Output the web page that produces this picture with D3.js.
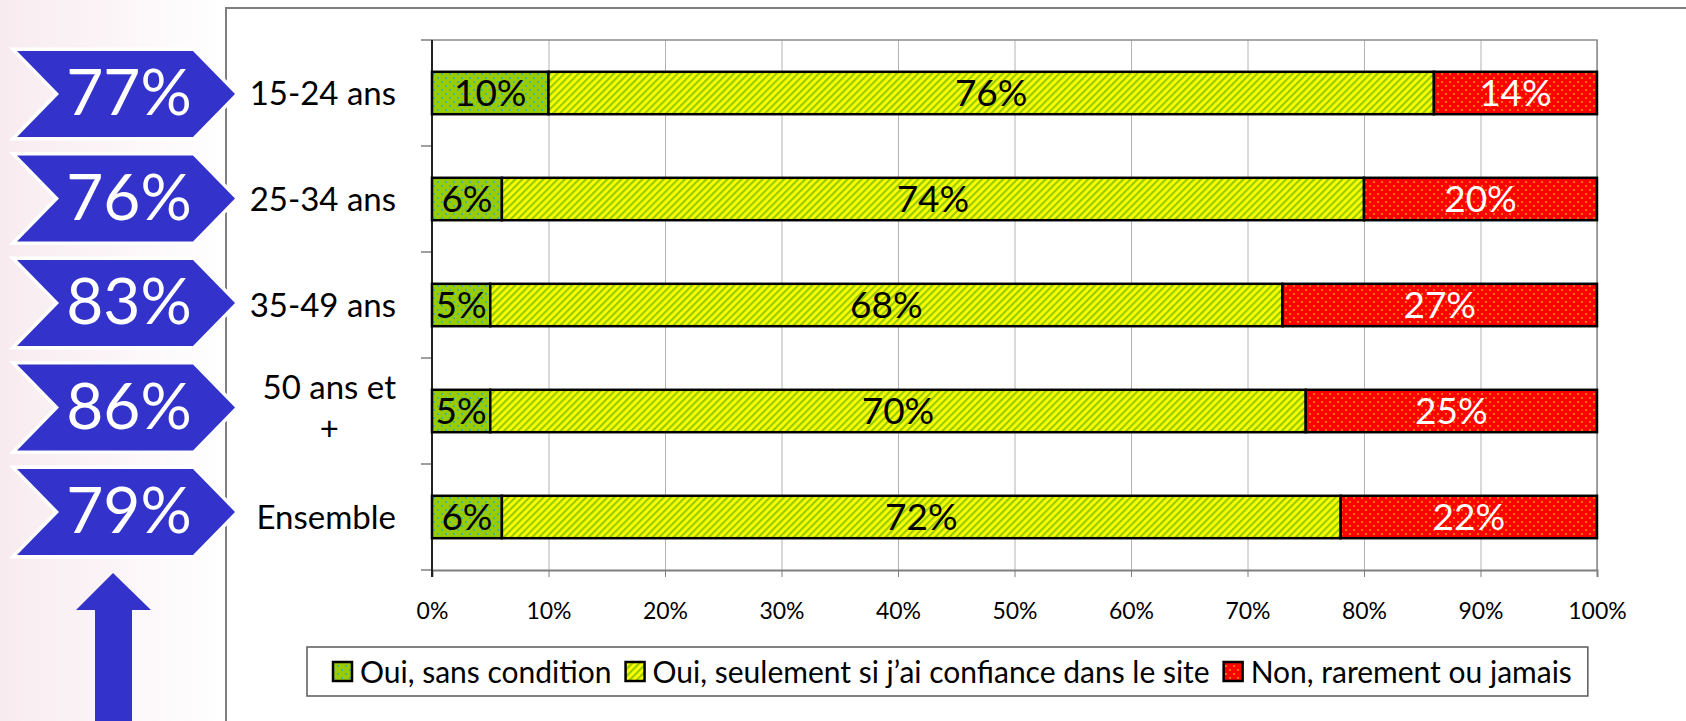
<!DOCTYPE html>
<meta charset="utf-8">
<style>

  body {
    margin: 0;
    background: #fff;
  }

  text {
    font-family: Lato, "Noto Sans", sans-serif;
  }

</style>
<body>
<script src="https://d3js.org/d3.v7.min.js"></script>
<script>

var width = 1686,
    height = 721;

// data
var categories = ["15-24 ans", "25-34 ans", "35-49 ans", "50 ans et\n+", "Ensemble"];
var sansCondition = [10, 6, 5, 5, 6];
var siConfiance = [76, 74, 68, 70, 72];
var jamais = [14, 20, 27, 25, 22];
var totals = ["77%", "76%", "83%", "86%", "79%"];
var seriesNames = ["Oui, sans condition", "Oui, seulement si j\u2019ai confiance dans le site", "Non, rarement ou jamais"];
var xTicks = [0, 10, 20, 30, 40, 50, 60, 70, 80, 90, 100];

var keys = ["sans", "confiance", "jamais"];
var patterns = ["pGreen", "pStripe", "pRed"];
var labelColors = ["#000", "#000", "#fff"];

var rows = categories.map(function(c, i) {
  return {cat: c, sans: sansCondition[i], confiance: siConfiance[i], jamais: jamais[i]};
});

var svg = d3.select("body").append("svg")
  .attr("width", width)
  .attr("height", height);

var defs = svg.append("defs");

var bg = defs.append("linearGradient")
  .attr("id", "bgGrad")
  .attr("x1", 0).attr("x2", 1).attr("y1", 0).attr("y2", 0);
bg.append("stop").attr("offset", "0%").attr("stop-color", "#f8ebef");
bg.append("stop").attr("offset", "100%").attr("stop-color", "#ffffff");

function dotPattern(id, base, dot) {
  var p = defs.append("pattern")
    .attr("id", id)
    .attr("width", 8).attr("height", 8)
    .attr("patternUnits", "userSpaceOnUse");
  p.append("rect").attr("width", 8).attr("height", 8).attr("fill", base);
  p.append("circle").attr("cx", 2).attr("cy", 2).attr("r", 1.1).attr("fill", dot);
  p.append("circle").attr("cx", 6).attr("cy", 6).attr("r", 1.1).attr("fill", dot);
}
dotPattern("pGreen", "#99cc00", "#33b3b3");
dotPattern("pRed", "#ff0000", "#ff8c00");

var stripe = defs.append("pattern")
  .attr("id", "pStripe")
  .attr("width", 5).attr("height", 5)
  .attr("patternUnits", "userSpaceOnUse")
  .attr("patternTransform", "rotate(45)");
stripe.append("rect").attr("width", 5).attr("height", 5).attr("fill", "#ffff00");
stripe.append("rect").attr("width", 2.2).attr("height", 5).attr("fill", "#99cc00");

// left background + frame
svg.append("rect")
  .attr("width", 226).attr("height", height)
  .attr("fill", "url(#bgGrad)");

svg.append("path")
  .attr("d", "M226," + height + "V8H" + width)
  .attr("fill", "none")
  .attr("stroke", "#7f7f7f")
  .attr("stroke-width", 2);

var x = d3.scaleLinear()
  .domain([0, 100])
  .range([432, 1597]);

var y = d3.scaleBand()
  .domain(categories)
  .range([40, 570])
  .paddingInner(0.6)
  .paddingOuter(0.3);

// gridlines
svg.append("g")
  .attr("transform", "translate(0,570)")
  .call(d3.axisBottom(x).tickValues(xTicks).tickSize(-530).tickFormat(""))
  .call(function(g) {
    g.select(".domain").remove();
    g.selectAll("line").attr("stroke", "#b4b4b4");
  });

// plot border top / right
svg.append("path")
  .attr("d", "M" + x(0) + ",40H" + x(100) + "V570")
  .attr("fill", "none")
  .attr("stroke", "#8c8c8c")
  .attr("stroke-width", 1.5);

// x axis
svg.append("g")
  .attr("transform", "translate(0,570)")
  .call(d3.axisBottom(x).tickValues(xTicks).tickSize(7).tickPadding(26)
    .tickFormat(function(d) { return d + "%"; }))
  .call(function(g) {
    g.select(".domain").attr("stroke", "#7f7f7f").attr("stroke-width", 2);
    g.selectAll("line").attr("stroke", "#7f7f7f");
    g.selectAll("text")
      .attr("font-family", "Lato, sans-serif")
      .attr("font-size", 23)
      .attr("fill", "#000");
  });

// y axis: ticks on category boundaries
var bounds = d3.range(categories.length + 1).map(function(i) {
  return y.range()[0] + i * y.step();
});

svg.append("g")
  .selectAll("line")
  .data(bounds)
  .enter()
  .append("line")
    .attr("x1", x(0) - 11)
    .attr("x2", x(0))
    .attr("y1", function(d) { return d; })
    .attr("y2", function(d) { return d; })
    .attr("stroke", "#7f7f7f")
    .attr("stroke-width", 1.5);

svg.append("line")
  .attr("x1", x(0)).attr("x2", x(0))
  .attr("y1", 40).attr("y2", 577)
  .attr("stroke", "#222")
  .attr("stroke-width", 2);

// category labels
svg.append("g")
  .selectAll("text")
  .data(categories)
  .enter()
  .append("text")
    .attr("font-size", 33)
    .attr("fill", "#000")
    .each(function(d) {
      var t = d3.select(this),
          lines = d.split("\n"),
          cy = y(d) + y.bandwidth() / 2;
      if (lines.length === 1) {
        t.attr("x", 396).attr("y", cy).attr("dy", "0.35em")
          .attr("text-anchor", "end").text(d);
      } else {
        t.attr("text-anchor", "middle");
        var first = t.append("tspan").text(lines[0]).attr("y", cy - 12);
        var w = first.node().getComputedTextLength();
        first.attr("x", 396 - w / 2);
        t.append("tspan").text(lines[1]).attr("x", 396 - w / 2).attr("y", cy + 29);
      }
    });

// stacked bars
var stack = d3.stack().keys(keys)(rows);

var layers = svg.selectAll(".layer")
  .data(stack)
  .enter()
  .append("g")
    .attr("class", "layer");

layers.selectAll("rect")
  .data(function(d) { return d; })
  .enter()
  .append("rect")
    .attr("x", function(d) { return x(d[0]); })
    .attr("y", function(d) { return y(d.data.cat); })
    .attr("width", function(d) { return x(d[1]) - x(d[0]); })
    .attr("height", y.bandwidth())
    .attr("fill", function(d, i, n) {
      return "url(#" + patterns[stack.indexOf(d3.select(n[i].parentNode).datum())] + ")";
    })
    .attr("stroke", "#000")
    .attr("stroke-width", 2.5);

layers.selectAll("text")
  .data(function(d, k) { return d.map(function(e) { return {e: e, k: k}; }); })
  .enter()
  .append("text")
    .attr("x", function(d) { return (x(d.e[0]) + x(d.e[1])) / 2; })
    .attr("y", function(d) { return y(d.e.data.cat) + y.bandwidth() / 2 + 13; })
    .attr("text-anchor", "middle")
    .attr("font-size", 37)
    .attr("fill", function(d) { return labelColors[d.k]; })
    .text(function(d) { return (d.e[1] - d.e[0]) + "%"; });

// chevrons on the left
var yc = d3.scalePoint()
  .domain(categories)
  .range([94, 512]);

var chevron = [[17, -43], [193, -43], [235, 0], [193, 43], [17, 43], [59, 0]];

var chev = svg.append("g")
  .selectAll("g")
  .data(categories)
  .enter()
  .append("g")
    .attr("transform", function(d) { return "translate(0," + yc(d) + ")"; });

chev.append("path")
  .attr("d", "M" + chevron.join("L") + "Z")
  .attr("fill", "#3333cc")
  .attr("stroke", "#fff")
  .attr("stroke-width", 7)
  .attr("stroke-linejoin", "miter");

chev.append("path")
  .attr("d", "M" + chevron.join("L") + "Z")
  .attr("fill", "#3333cc");

chev.append("text")
  .attr("x", 129)
  .attr("dy", "0.33em")
  .attr("text-anchor", "middle")
  .attr("font-size", 64)
  .attr("fill", "#fff")
  .text(function(d, i) { return totals[i]; });

// up arrow
var arrow = [[113, 573], [151, 610], [132, 610], [132, height], [95, height], [95, 610], [76, 610]];
svg.append("path")
  .attr("d", "M" + arrow.join("L") + "Z")
  .attr("fill", "#3333cc");

// legend
var legend = svg.append("g");

var legendBox = legend.append("rect")
  .attr("x", 307).attr("y", 647)
  .attr("height", 49)
  .attr("fill", "#fff")
  .attr("stroke", "#595959")
  .attr("stroke-width", 1.5);

var lx = 333;
seriesNames.forEach(function(name, i) {
  legend.append("rect")
    .attr("x", lx).attr("y", 662)
    .attr("width", 19).attr("height", 19)
    .attr("fill", "url(#" + patterns[i] + ")")
    .attr("stroke", "#000")
    .attr("stroke-width", 2.5);
  var t = legend.append("text")
    .attr("x", lx + 27).attr("y", 672)
    .attr("dy", "0.35em")
    .attr("font-size", 30)
    .attr("fill", "#000")
    .text(name);
  lx += 27 + t.node().getComputedTextLength() + 14;
});

legendBox.attr("width", lx - 14 + 16 - 307);

</script>
